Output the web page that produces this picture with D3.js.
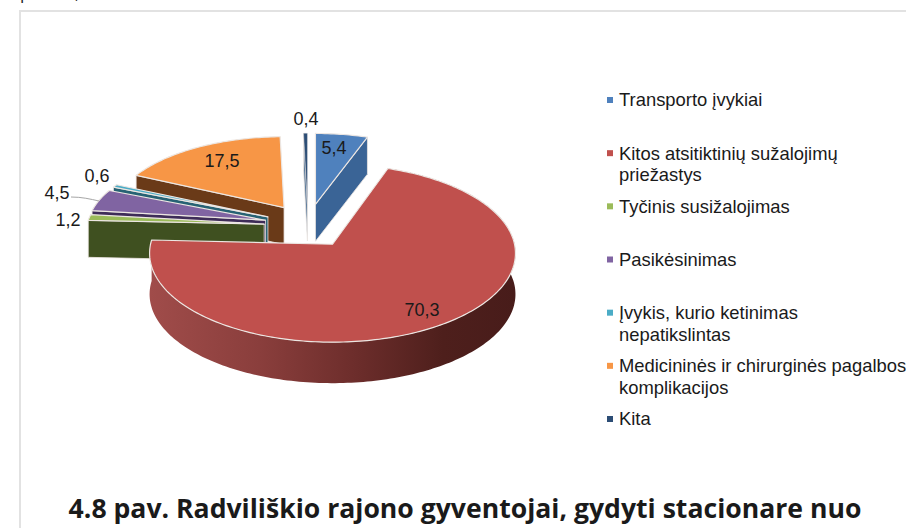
<!DOCTYPE html>
<html lang="lt">
<head>
  <meta charset="UTF-8" />
  <title>4.8 pav.</title>
  <style>
    html, body { margin: 0; padding: 0; background: #fff; overflow: hidden; }
    text { font-family: "Liberation Sans", sans-serif; fill: #1a1a1a; }
  </style>
</head>
<body>
  <svg id="chart"></svg>

  <script src="https://d3js.org/d3.v7.min.js"></script>
  <script>
    const categories = [
      ["Transporto įvykiai"],
      ["Kitos atsitiktinių sužalojimų", "priežastys"],
      ["Tyčinis susižalojimas"],
      ["Pasikėsinimas"],
      ["Įvykis, kurio ketinimas", "nepatikslintas"],
      ["Medicininės ir chirurginės pagalbos", "komplikacijos"],
      ["Kita"]
    ];
    const values = [5.4, 70.3, 1.2, 4.5, 0.6, 17.5, 0.4];
    const valueLabels = ["5,4", "70,3", "1,2", "4,5", "0,6", "17,5", "0,4"];
    const topColors = ["#4f81bd", "#c0504d", "#9bbb59", "#8064a2", "#4bacc6", "#f79646", "#2c4d75"];
    const wallColors = ["#3a6496", "#7a3230", "#3f5020", "#3e2c58", "#276274", "#6a3a18", "#5d7c9c"];

    const width = 906, height = 528;
    const svg = d3.select("#chart").attr("width", width).attr("height", height)
      .style("display", "block");

    // frame of the original page
    svg.append("path").attr("d", "M20,528V11H906")
      .attr("fill", "none").attr("stroke", "#e2e2e2").attr("stroke-width", 2);

    // bottoms of the line cut off above the frame
    svg.append("text").attr("x", 20).attr("y", -1).attr("font-size", 17)
      .style("font-family", "'Open Sans'").text("p");
    svg.append("text").attr("x", 75).attr("y", -1).attr("font-size", 17)
      .style("font-family", "'Open Sans'").text(",");

    // 3D pie: angles from d3.pie, then a perspective projection of the disc
    const pie = d3.pie().sort(null).value(d => d);
    const arcs = pie(values);

    const centerX = 308, centerY = 226;
    const explode = 44, explodeSquash = 0.5;
    const persp = 0.101;
    // the big slice is pulled towards the viewer, so it draws larger
    const radiusX = [171, 182, 177, 177, 175, 171, 171];
    const radiusY = [78, 88, 78, 78, 78, 78, 78];

    function apexOf(a) {
      const mid = (a.startAngle + a.endAngle) / 2;
      return [
        centerX + explode * Math.sin(mid),
        centerY - explode * explodeSquash * Math.cos(mid)
      ];
    }
    function rimPoint(a, angle) {
      const [ax, ay] = apexOf(a);
      const u = Math.sin(angle), v = Math.cos(angle);
      const w = 1 + persp * v;
      return [ax + radiusX[a.index] * u / w, ay - radiusY[a.index] * v / w];
    }
    const depthOf = a => a.index === 1 ? 41 : 37;

    const line = d3.line();
    function rimPoints(a, from, to) {
      const n = Math.max(2, Math.ceil(Math.abs(to - from) / 0.02));
      return d3.range(n + 1).map(i => rimPoint(a, from + (to - from) * i / n));
    }

    const defs = svg.append("defs");
    const rimGrad = defs.append("linearGradient").attr("id", "rimGrad")
      .attr("gradientUnits", "userSpaceOnUse")
      .attr("x1", 150).attr("x2", 516).attr("y1", 0).attr("y2", 0);
    [[0, "#a04c4a"], [0.3, "#8a3e3c"], [0.55, "#6e2e2c"], [0.8, "#4e1f1c"], [1, "#481c1a"]]
      .forEach(s => rimGrad.append("stop").attr("offset", s[0]).attr("stop-color", s[1]));

    const edge = "#ece6e2";
    const sliceLayer = svg.append("g");

    // painter's order, back to front
    const drawOrder = [5, 4, 3, 2, 6, 0, 1];
    drawOrder.forEach(i => {
      const a = arcs[i];
      const apex = apexOf(a);
      const depth = depthOf(a);
      const g = sliceLayer.append("g").attr("class", "slice");
      const drop = p => [p[0], p[1] + depth];

      if (i === 1) {
        // outer rim of the big slice
        const rim = rimPoints(a, a.startAngle, a.endAngle);
        g.append("path")
          .attr("d", line(rim.concat(rim.slice().reverse().map(drop))) + "Z")
          .attr("fill", "url(#rimGrad)");
      } else {
        // the cut face turned towards the viewer
        const wallAngle = i === 0 ? a.endAngle : a.startAngle;
        const tip = rimPoint(a, wallAngle);
        g.append("path")
          .attr("d", line([apex, tip, drop(tip), drop(apex)]) + "Z")
          .attr("fill", wallColors[i])
          .attr("stroke", edge).attr("stroke-width", 0.8);
      }

      g.append("path")
        .attr("d", line([apex].concat(rimPoints(a, a.startAngle, a.endAngle))) + "Z")
        .attr("fill", topColors[i])
        .attr("stroke", edge).attr("stroke-width", i === 6 ? 0.4 : 1.2)
        .attr("stroke-linejoin", "round");
    });

    // data labels
    const labelPos = [[334, 148], [422, 310], [68, 220], [57, 193], [97, 176], [222, 161], [306, 119]];
    svg.append("g").selectAll("text")
      .data(valueLabels)
      .join("text")
      .attr("x", (d, i) => labelPos[i][0])
      .attr("y", (d, i) => labelPos[i][1])
      .attr("dy", "0.35em")
      .attr("text-anchor", "middle")
      .attr("font-size", 18)
      .text(d => d);

    // leader line of the 4,5 label
    svg.append("path").attr("d", "M71,197C82,197 90,199 99,201")
      .attr("fill", "none").attr("stroke", "#a6a6a6").attr("stroke-width", 1);

    // legend
    const legendY = d3.scalePoint().domain(d3.range(categories.length)).range([100, 419]);
    const legend = svg.append("g").selectAll("g")
      .data(categories)
      .join("g")
      .attr("transform", (d, i) => `translate(607,${legendY(i)})`);
    legend.append("rect")
      .attr("x", 0).attr("y", -3).attr("width", 6).attr("height", 6)
      .attr("fill", (d, i) => topColors[i]);
    legend.append("text")
      .attr("x", 12)
      .attr("font-size", 18.4)
      .selectAll("tspan")
      .data(d => d)
      .join("tspan")
      .attr("x", 12)
      .attr("y", (d, i) => i * 21.5)
      .attr("dy", "0.35em")
      .text(d => d);

    // page caption, cut by the bottom of the screenshot
    svg.append("text")
      .attr("x", 465)
      .attr("y", 518)
      .attr("text-anchor", "middle")
      .attr("font-size", 26.6)
      .attr("font-weight", 700)
      .style("font-family", "'Open Sans'")
      .text("4.8 pav. Radviliškio rajono gyventojai, gydyti stacionare nuo");
  </script>
</body>
</html>
